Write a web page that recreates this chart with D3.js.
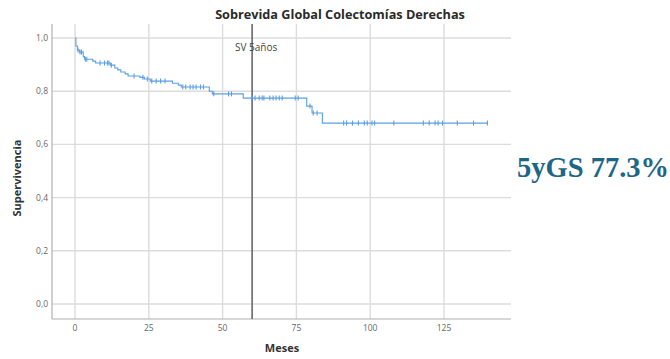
<!DOCTYPE html>
<html>
<head>
<meta charset="utf-8">
<script src="https://cdn.jsdelivr.net/npm/d3@7"></script>
<style>
  body { margin: 0; background: #fff; }
  svg { display: block; }
</style>
</head>
<body>
<svg id="chart" width="670" height="359"></svg>
<script>
// Kaplan-Meier steps: time (meses) where the curve drops, and survival after the drop
const stepTimes = [0, 0.3, 0.8, 1.5, 2.8, 3.2, 6.0, 7.0, 12.0, 13.5, 14.5, 15.5, 17.0, 18.0, 22.0, 23.5, 25.5, 33.0, 35.0, 36.0, 45.5, 46.5, 57.0, 78.5, 80.3, 83.8];
const stepSurv  = [1.0, 0.97, 0.955, 0.947, 0.93, 0.92, 0.913, 0.906, 0.898, 0.887, 0.88, 0.872, 0.865, 0.857, 0.852, 0.846, 0.838, 0.83, 0.823, 0.816, 0.80, 0.79, 0.774, 0.744, 0.718, 0.68];
const lastTime = 139.7;

// censored observations (marks)
const censorTimes = [1.0, 1.7, 2.2, 3.5, 4.0, 8.5, 10, 11, 11.5, 12.3, 20, 23, 24.5, 26, 27.5, 29, 30.5,
  36.5, 37.5, 39, 40, 41, 42.5, 43.5, 47, 52, 53, 60, 61, 62.4, 63.4, 64, 66, 67.1, 68.1, 69.2, 70.2,
  74.6, 75.6, 79.6, 80.7, 82, 91, 92, 94, 96, 98, 99, 100.6, 101.5, 108, 118, 120, 122, 123, 124.5,
  129.5, 135, 139.7];

const xTicks = [0, 25, 50, 75, 100, 125];
const yTicks = [0, 0.2, 0.4, 0.6, 0.8, 1.0];
const refTime = 60;

const svg = d3.select("#chart");

// plot frame
const frame = { left: 52, right: 511, top: 24, bottom: 319 };

const x = d3.scaleLinear().domain([0, 125]).range([75, 444]);
const y = d3.scaleLinear().domain([0, 1]).range([304, 38]);

const survAt = t => {
  let s = 1;
  stepTimes.forEach((st, i) => { if (st <= t) s = stepSurv[i]; });
  return s;
};

// grid
svg.append("g").selectAll("line")
  .data(xTicks)
  .join("line")
    .attr("x1", d => x(d)).attr("x2", d => x(d))
    .attr("y1", frame.top).attr("y2", frame.bottom)
    .attr("stroke", "#dcdcdc").attr("stroke-width", 1.4);

svg.append("g").selectAll("line")
  .data(yTicks)
  .join("line")
    .attr("x1", frame.left).attr("x2", frame.right)
    .attr("y1", d => y(d)).attr("y2", d => y(d))
    .attr("stroke", "#dcdcdc").attr("stroke-width", 1.4);

// axes lines
svg.append("line").attr("x1", frame.left).attr("x2", frame.left).attr("y1", frame.top).attr("y2", frame.bottom)
  .attr("stroke", "#b0b0b0").attr("stroke-width", 1.2);
svg.append("line").attr("x1", frame.left).attr("x2", frame.right).attr("y1", frame.bottom).attr("y2", frame.bottom)
  .attr("stroke", "#b0b0b0").attr("stroke-width", 1.2);

// tick labels
svg.append("g").selectAll("text")
  .data(yTicks)
  .join("text")
    .attr("x", 48).attr("y", d => y(d)).attr("dy", "0.35em")
    .attr("text-anchor", "end")
    .style("font-family", "Open Sans, sans-serif").style("font-size", "8.5px").style("fill", "#666")
    .text(d => d.toFixed(1).replace(".", ","));

svg.append("g").selectAll("text")
  .data(xTicks)
  .join("text")
    .attr("x", d => x(d)).attr("y", 331)
    .attr("text-anchor", "middle")
    .style("font-family", "Open Sans, sans-serif").style("font-size", "8.5px").style("fill", "#666")
    .text(d => d);

// reference line at 5 years
svg.append("line")
  .attr("x1", x(refTime)).attr("x2", x(refTime))
  .attr("y1", frame.top).attr("y2", frame.bottom)
  .attr("stroke", "#686868").attr("stroke-width", 1.6);

svg.append("text")
  .attr("x", 235).attr("y", 51)
  .style("font-family", "Open Sans, sans-serif").style("font-size", "10px").style("fill", "#444")
  .text("SV 5años");

// survival curve as step line
const pts = stepTimes.map((t, i) => [t, stepSurv[i]]);
pts.push([lastTime, stepSurv[stepSurv.length - 1]]);
const line = d3.line().x(d => x(d[0])).y(d => y(d[1])).curve(d3.curveStepAfter);

svg.append("path")
  .datum(pts)
  .attr("d", line)
  .attr("fill", "none")
  .attr("stroke", "#5b9fe3")
  .attr("stroke-width", 1.1);

// censor marks
svg.append("g").selectAll("line")
  .data(censorTimes)
  .join("line")
    .attr("x1", d => x(d)).attr("x2", d => x(d))
    .attr("y1", d => y(survAt(d)) - 2.5).attr("y2", d => y(survAt(d)) + 2.5)
    .attr("stroke", "#5b9fe3").attr("stroke-width", 1.1);

// title and axis labels
svg.append("text")
  .attr("x", 340).attr("y", 19)
  .attr("text-anchor", "middle")
  .style("font-family", "Open Sans, sans-serif").style("font-size", "12.7px")
  .style("font-weight", "bold").style("fill", "#2a2a2a")
  .text("Sobrevida Global Colectomías Derechas");

svg.append("text")
  .attr("x", 282).attr("y", 352)
  .attr("text-anchor", "middle")
  .style("font-family", "Open Sans, sans-serif").style("font-size", "11px")
  .style("font-weight", "bold").style("fill", "#333")
  .text("Meses");

svg.append("text")
  .attr("transform", "translate(21,178) rotate(-90)")
  .attr("text-anchor", "middle")
  .style("font-family", "Open Sans, sans-serif").style("font-size", "11px")
  .style("font-weight", "bold").style("fill", "#333")
  .text("Supervivencia");

// side annotation
svg.append("text")
  .attr("x", 517).attr("y", 177)
  .style("font-family", "Liberation Serif, Times New Roman, serif").style("font-size", "28.5px")
  .style("font-weight", "bold").style("fill", "#1e6688")
  .text("5yGS 77.3%");
</script>
</body>
</html>
